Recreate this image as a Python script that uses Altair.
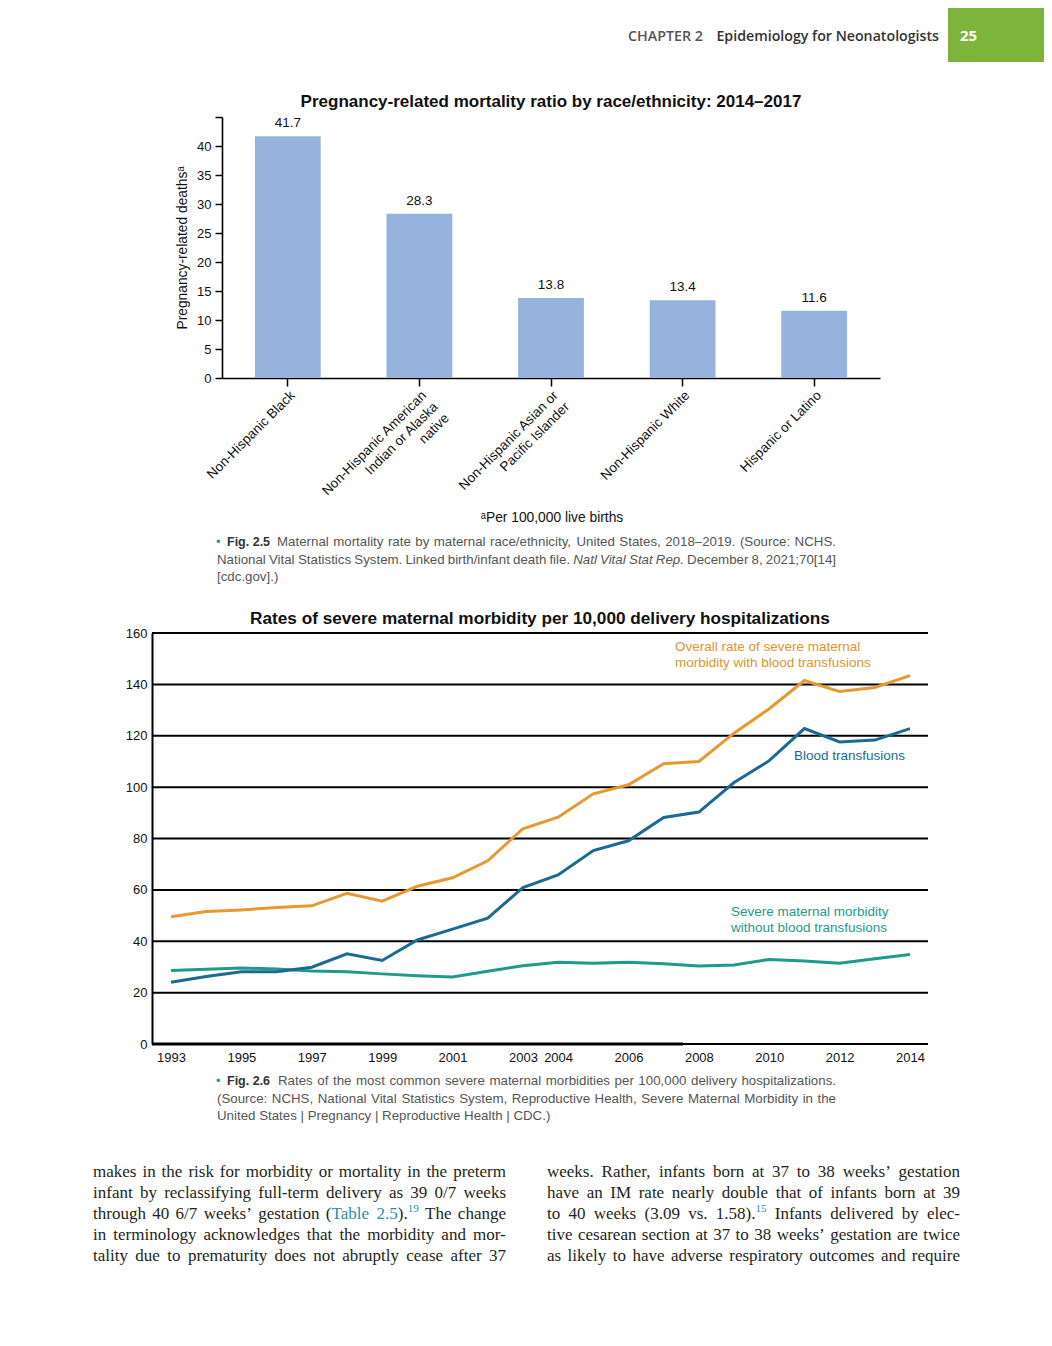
import altair as alt
import pandas as pd

# ---------------- data ----------------
categories = ["Non-Hispanic Black",
              "Non-Hispanic American|Indian or Alaska|native",
              "Non-Hispanic Asian or|Pacific Islander",
              "Non-Hispanic White",
              "Hispanic or Latino"]
mortality = [41.7, 28.3, 13.8, 13.4, 11.6]
bar_ticks = [0, 5, 10, 15, 20, 25, 30, 35, 40, 45]

years = [1993, 1994, 1995, 1996, 1997, 1998, 1999, 2000, 2001, 2002, 2003,
         2004, 2005, 2006, 2007, 2008, 2009, 2010, 2011, 2012, 2013, 2014]
overall = [49.5, 51.6, 52.2, 53.1, 53.8, 58.7, 55.6, 61.4, 64.7, 71.3, 83.8,
           88.3, 97.4, 100.9, 109.1, 110.0, 121.0, 130.5, 141.5, 137.2, 138.8, 143.4]
blood = [24.0, 26.3, 28.1, 28.1, 29.9, 35.1, 32.5, 40.5, 44.7, 49.0, 60.9,
         65.8, 75.3, 79.1, 88.2, 90.3, 101.8, 110.3, 122.8, 117.6, 118.3, 122.8]
without = [28.6, 29.1, 29.6, 29.2, 28.4, 28.1, 27.3, 26.6, 26.1, 28.3, 30.5,
           31.8, 31.4, 31.8, 31.2, 30.4, 30.8, 32.9, 32.3, 31.4, 33.2, 34.8]
year_labels = [1993, 1995, 1997, 1999, 2001, 2003, 2004, 2006, 2008, 2010, 2012, 2014]
line_ticks = [0, 20, 40, 60, 80, 100, 120, 140, 160]
series_names = ["Without", "Blood", "Overall"]
series_colors = ["#1f9a8b", "#1b6a93", "#e8982e"]

# ---------------- page geometry ----------------
W, H = 1036, 1330
M = 8  # page margin


def px(x):
    return x - M


def py(y):
    return y - M


SANS = "Liberation Sans"
SERIF = "Liberation Serif"

# ---------------- bar chart ----------------
bar_df = pd.DataFrame({"group": categories, "value": mortality})
xb = alt.X("group:N", sort=categories,
           scale=alt.Scale(range=[px(222), px(880)], paddingInner=0.5, paddingOuter=0.25),
           axis=alt.Axis(orient="bottom", offset=py(378) - H, title=None,
                         labelAngle=-45, labelAlign="right", labelBaseline="top",
                         labelExpr="split(datum.label, '|')", labelFont=SANS,
                         labelFontSize=13.5, labelColor="#111", labelLineHeight=16,
                         labelPadding=2, labelOverlap=False, labelLimit=0,
                         tickColor="#000", tickSize=8, tickWidth=1.5,
                         domainColor="#000", domainWidth=1.6, grid=False))
yb = alt.Y("value:Q",
           scale=alt.Scale(domain=[0, 45], range=[py(378), py(117)], nice=False),
           axis=alt.Axis(orient="left", offset=-px(222), values=bar_ticks,
                         labelExpr="datum.value == 45 ? '' : datum.label",
                         title="Pregnancy-related deathsᵃ", titleFont=SANS,
                         titleFontSize=13.8, titleFontWeight="normal", titleColor="#111",
                         titlePadding=7, labelFont=SANS, labelFontSize=13,
                         labelColor="#111", labelPadding=4, tickColor="#000",
                         tickSize=7, tickWidth=1.5, domainColor="#000",
                         domainWidth=1.6, grid=False))
bars = alt.Chart(bar_df).mark_bar(color="#95b3dc").encode(x=xb, y=yb)
bar_vals = alt.Chart(bar_df).mark_text(dy=-13, baseline="middle", font=SANS,
                                       fontSize=13.5, color="#111").encode(
    x=xb, y=yb, text=alt.Text("value:Q", format=".1f"))
bar_layer = alt.layer(bars, bar_vals)

# ---------------- line chart ----------------
line_df = pd.DataFrame({
    "year": years * 3,
    "value": without + blood + overall,
    "series": ["Without"] * len(years) + ["Blood"] * len(years) + ["Overall"] * len(years),
})
xl = alt.X("year:Q",
           scale=alt.Scale(domain=[1993, 2014], range=[px(171), px(910)], nice=False, zero=False),
           axis=alt.Axis(orient="bottom", offset=py(1044) - H, values=year_labels,
                         format="d", ticks=False, domain=False, grid=False,
                         labelPadding=7, labelFont=SANS, labelFontSize=13,
                         labelColor="#111", labelFlush=False, labelOverlap=False,
                         title=None))
yl = alt.Y("value:Q",
           scale=alt.Scale(domain=[0, 160], range=[py(1044), py(633)], nice=False),
           axis=alt.Axis(orient="left", offset=-px(152), values=line_ticks,
                         ticks=False, domainColor="#000", domainWidth=2,
                         labelPadding=5, labelFont=SANS, labelFontSize=13,
                         labelColor="#111", title=None, grid=False))
grid_df = pd.DataFrame({"value": line_ticks})
grid = alt.Chart(grid_df).mark_rule(color="#000", strokeWidth=2).encode(
    y=yl, x=alt.value(px(152)), x2=alt.value(px(928)))
base_df = pd.DataFrame({"value": [0]})
base_thick = alt.Chart(base_df).mark_rule(color="#000", strokeWidth=3).encode(
    y=yl, x=alt.value(px(152)), x2=alt.value(px(683)))
lines = alt.Chart(line_df).mark_line(strokeWidth=3).encode(
    x=xl, y=yl,
    color=alt.Color("series:N", scale=alt.Scale(domain=series_names, range=series_colors),
                    legend=None),
    order=alt.Order("year:Q"),
    detail="series:N")
line_layer = alt.layer(grid, base_thick, lines)

# ---------------- text placement helpers ----------------
TIMES = {" ": 250, "(": 333, ")": 333, ",": 250, "-": 333, ".": 250, "/": 278,
         ":": 278, ";": 278, "’": 333,
         "A": 722, "B": 667, "C": 667, "D": 722, "E": 611, "F": 556, "G": 722, "H": 722,
         "I": 333, "J": 389, "K": 722, "L": 611, "M": 889, "N": 722, "O": 722, "P": 556,
         "Q": 722, "R": 667, "S": 556, "T": 611, "U": 722, "V": 722, "W": 944, "X": 722,
         "Y": 722, "Z": 611,
         "a": 444, "b": 500, "c": 444, "d": 500, "e": 444, "f": 333, "g": 500, "h": 500,
         "i": 278, "j": 278, "k": 500, "l": 278, "m": 778, "n": 500, "o": 500, "p": 500,
         "q": 500, "r": 333, "s": 389, "t": 278, "u": 500, "v": 500, "w": 722, "x": 500,
         "y": 500, "z": 444}
ARIAL = {" ": 278, "(": 333, ")": 333, ",": 278, "-": 333, ".": 278, "/": 278,
         ":": 278, ";": 278, "[": 278, "]": 278, "|": 260, "–": 556,
         "A": 667, "B": 667, "C": 722, "D": 722, "E": 667, "F": 611, "G": 778, "H": 722,
         "I": 278, "J": 500, "K": 667, "L": 556, "M": 833, "N": 722, "O": 778, "P": 667,
         "Q": 778, "R": 722, "S": 667, "T": 611, "U": 722, "V": 667, "W": 944, "X": 667,
         "Y": 667, "Z": 611,
         "a": 556, "b": 556, "c": 500, "d": 556, "e": 556, "f": 278, "g": 556, "h": 556,
         "i": 222, "j": 222, "k": 500, "l": 222, "m": 833, "n": 556, "o": 556, "p": 556,
         "q": 556, "r": 333, "s": 500, "t": 278, "u": 556, "v": 500, "w": 722, "x": 500,
         "y": 500, "z": 500}


def width(s, size, table):
    return sum(table.get(ch, 556 if table is ARIAL else 500) for ch in s) * size / 1000.0


rows = []  # text, x, y, size, color, font, weight, style, align


def put(t, x, y, s, c, font=SANS, weight="normal", style="normal", align="left"):
    rows.append([t, x, y, s, c, font, weight, style, align])


def justify(x0, x1, y, words, font, table):
    """words: list of words; word = list of (text, color, size, dy, style)."""
    widths = [sum(width(t, s, table) for t, c, s, d, st in w) for w in words]
    gap = (x1 - x0 - sum(widths)) / (len(words) - 1)
    x = x0
    for w, wd in zip(words, widths):
        xx = x
        for t, c, s, d, st in w:
            put(t, xx, y + d, s, c, font=font, style=st)
            xx += width(t, s, table)
        x += wd + gap


# header
put("CHAPTER 2", 703, 37, 14.3, "#555", font="Open Sans", weight=600, align="right")
put("Epidemiology for Neonatologists", 939, 37, 14.2, "#333", font="Open Sans", weight=600, align="right")
put("25", 960, 36, 15, "#ffffff", font="Open Sans", weight="bold")

# chart titles and notes
put("Pregnancy-related mortality ratio by race/ethnicity: 2014–2017", 551, 102, 17, "#111",
    weight="bold", align="center")
put("Rates of severe maternal morbidity per 10,000 delivery hospitalizations", 540, 619, 17.2,
    "#111", weight="bold", align="center")
put("ᵃPer 100,000 live births", 552, 518, 13.8, "#111", align="center")
for t, x, y, c in [["Overall rate of severe maternal", 675, 647, "#e0952e"],
                   ["morbidity with blood transfusions", 675, 663, "#e0952e"],
                   ["Blood transfusions", 794, 756, "#1b6a93"],
                   ["Severe maternal morbidity", 731, 912, "#1f9a8b"],
                   ["without blood transfusions", 731, 928, "#1f9a8b"]]:
    put(t, x, y, 13.5, c)

# captions (justified, Arial metrics)
CAP = "#555555"
CS = 13.3


def cw(text, style="normal"):
    return [[(w, CAP, CS, 0, style)] for w in text.split(" ")]


for y in (542, 1081):
    put("•", 216, y, 13, "#2b8fb5")
put("Fig. 2.5", 227, 542, 12.5, "#333", weight="bold")
put("Fig. 2.6", 227, 1081, 12.5, "#333", weight="bold")
justify(277, 836, 542, cw("Maternal mortality rate by maternal race/ethnicity, United States, 2018–2019. (Source: NCHS."), SANS, ARIAL)
justify(217, 836, 560, cw("National Vital Statistics System. Linked birth/infant death file.")
        + cw("Natl Vital Stat Rep.", "italic") + cw("December 8, 2021;70[14]"), SANS, ARIAL)
put("[cdc.gov].)", 217, 577, CS, CAP)
justify(278, 836, 1081, cw("Rates of the most common severe maternal morbidities per 100,000 delivery hospitalizations."), SANS, ARIAL)
justify(217, 836, 1099, cw("(Source: NCHS, National Vital Statistics System, Reproductive Health, Severe Maternal Morbidity in the"), SANS, ARIAL)
put("United States | Pregnancy | Reproductive Health | CDC.)", 217, 1116, CS, CAP)

# body text (justified, Times metrics)
BODY = "#231f20"
LINK = "#2a8fa8"
BS = 17.0


def sg(t, c=BODY, sup=False):
    return (t, c, 11.0 if sup else BS, -5 if sup else 0, "normal")


def bw(text):
    return [[sg(w)] for w in text.split(" ")]


body_lines = [
    (93, 506, 1172, bw("makes in the risk for morbidity or mortality in the preterm")),
    (93, 506, 1193, bw("infant by reclassifying full-term delivery as 39 0/7 weeks")),
    (93, 506, 1214, bw("through 40 6/7 weeks’ gestation") + [[sg("("), sg("Table", LINK)],
                     [sg("2.5", LINK), sg(")."), sg("19", LINK, True)]] + bw("The change")),
    (93, 506, 1235, bw("in terminology acknowledges that the morbidity and mor-")),
    (93, 506, 1256, bw("tality due to prematurity does not abruptly cease after 37")),
    (547, 960, 1172, bw("weeks. Rather, infants born at 37 to 38 weeks’ gestation")),
    (547, 960, 1193, bw("have an IM rate nearly double that of infants born at 39")),
    (547, 960, 1214, bw("to 40 weeks (3.09 vs.") + [[sg("1.58)."), sg("15", LINK, True)]]
     + bw("Infants delivered by elec-")),
    (547, 960, 1235, bw("tive cesarean section at 37 to 38 weeks’ gestation are twice")),
    (547, 960, 1256, bw("as likely to have adverse respiratory outcomes and require")),
]
for x0, x1, y, words in body_lines:
    justify(x0, x1, y, words, SERIF, TIMES)

text_df = pd.DataFrame(rows, columns=["t", "x", "y", "s", "c", "font", "weight", "style", "align"])
text_df["x"] = text_df["x"] - M
text_df["y"] = text_df["y"] - M
text_layers = []
for (font, weight, style, align), g in text_df.groupby(["font", "weight", "style", "align"], sort=False):
    text_layers.append(
        alt.Chart(g.drop(columns=["font", "weight", "style", "align"])).mark_text(
            font=font, fontWeight=weight, fontStyle=style, align=align, baseline="middle"
        ).encode(
            x=alt.X("x:Q", scale=None, axis=None),
            y=alt.Y("y:Q", scale=None, axis=None),
            text="t:N",
            size=alt.Size("s:Q", scale=None, legend=None),
            color=alt.Color("c:N", scale=None, legend=None)))

green_box = alt.Chart(pd.DataFrame({"a": [0]})).mark_rect(color="#7db43c").encode(
    x=alt.value(px(948)), x2=alt.value(W), y=alt.value(0), y2=alt.value(py(62)))

chart = alt.layer(
    green_box, bar_layer, line_layer, *text_layers
).resolve_scale(
    x="independent", y="independent", color="independent", size="independent"
).properties(
    width=W, height=H, padding=0,
    autosize=alt.AutoSizeParams(type="none"),
    background="white",
).configure_view(stroke=None)

chart.save("out.html", embed_options={"renderer": "svg", "actions": False})
